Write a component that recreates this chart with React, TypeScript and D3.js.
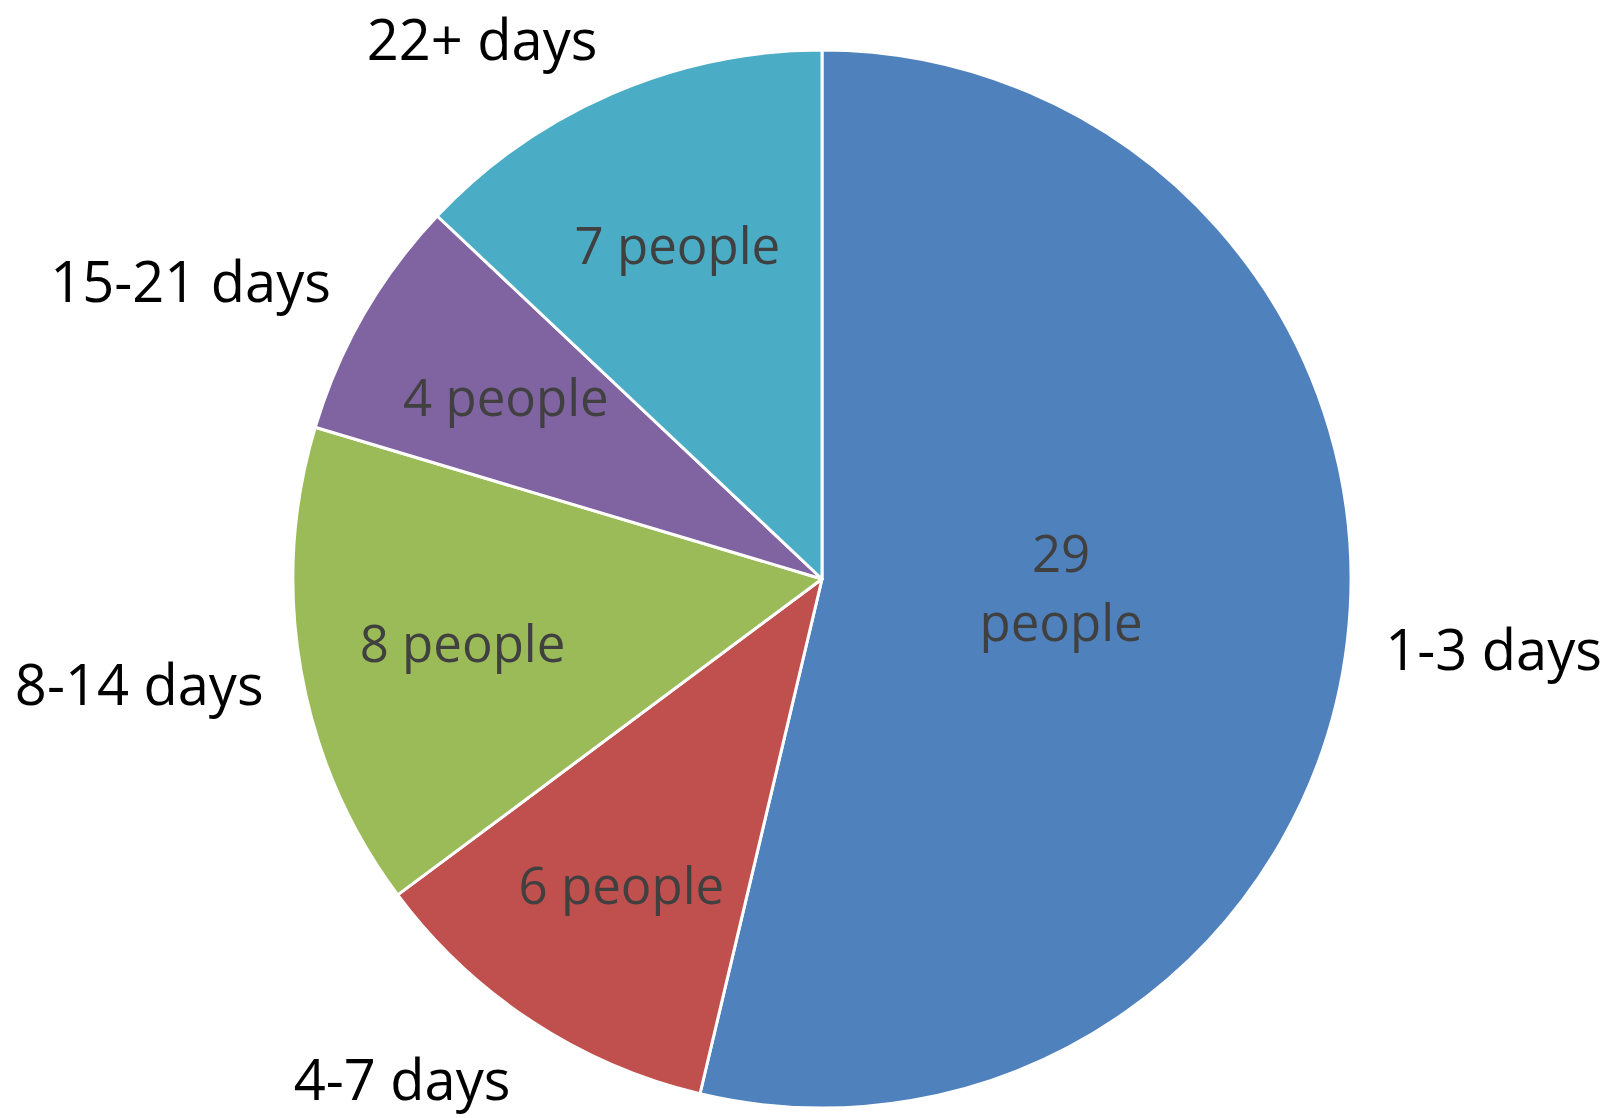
import React, { useEffect, useRef } from 'react';
import * as d3 from 'd3';

const categories = ['1-3 days', '4-7 days', '8-14 days', '15-21 days', '22+ days'];
const values = [29, 6, 8, 4, 7];
const unit = 'people';
const colors = ['#4F81BD', '#C0504D', '#9BBB59', '#8064A2', '#4BACC6'];

const W = 1614;
const H = 1118;
const CX = 822;
const CY = 579;
const R = 529;
const FONT = "'Open Sans', 'Noto Sans', sans-serif";
const FS_CAT = 56;
const FS_VAL = 51;
const GAP = 38;

export default function App() {
  const ref = useRef<SVGSVGElement | null>(null);

  useEffect(() => {
    const svg = d3.select(ref.current);
    svg.selectAll('*').remove();
    const total = d3.sum(values);
    const pie = d3.pie<number>().sort(null).value((d) => d);
    const arcs = pie(values);
    const arc = d3.arc<d3.PieArcDatum<number>>().innerRadius(0).outerRadius(R);

    const g = svg.append('g').attr('transform', `translate(${CX},${CY})`);

    g.selectAll('path.slice')
      .data(arcs)
      .join('path')
      .attr('class', 'slice')
      .attr('d', arc)
      .attr('fill', (_, i) => colors[i])
      .attr('stroke', '#ffffff')
      .attr('stroke-width', 3)
      .attr('stroke-linejoin', 'round');

    // value labels inside slices
    arcs.forEach((a, i) => {
      const mid = (a.startAngle + a.endAngle) / 2;
      const big = values[i] / total > 0.5;
      const rr = R * (big ? 0.455 : 0.69);
      const px = rr * Math.sin(mid);
      const py = -rr * Math.cos(mid) - (big ? FS_VAL * 0.4 : 0);
      const lines = big ? [String(values[i]), unit] : [`${values[i]} ${unit}`];
      const t = g
        .append('text')
        .attr('font-family', FONT)
        .attr('font-size', FS_VAL)
        .attr('fill', '#404040')
        .attr('text-anchor', 'middle');
      lines.forEach((ln, k) => {
        t.append('tspan').attr('x', 0).attr('dy', k === 0 ? 0 : FS_VAL * 1.37).text(ln);
      });
      const bb = (t.node() as SVGTextElement).getBBox();
      const dx = px - (bb.x + bb.width / 2);
      const dy = py - (bb.y + bb.height / 2);
      t.attr('transform', `translate(${dx},${dy})`);
    });

    // category labels outside
    arcs.forEach((a, i) => {
      const mid = (a.startAngle + a.endAngle) / 2;
      const s = Math.sin(mid);
      const c = Math.cos(mid);
      const P = [(R + GAP) * s, -(R + GAP) * c];
      const t = g
        .append('text')
        .attr('font-family', FONT)
        .attr('font-size', FS_CAT)
        .attr('fill', '#000000')
        .attr('text-anchor', 'middle')
        .text(categories[i]);
      const bb = (t.node() as SVGTextElement).getBBox();
      const tx = P[0] + Math.sign(s) * (bb.width / 2);
      let ty = P[1] - c * (bb.height / 2) * 0.8;
      // keep the label box inside the drawing area
      const minCy = -CY + bb.height / 2;
      const maxCy = H - CY - bb.height / 2;
      ty = Math.max(minCy, Math.min(maxCy, ty));
      const dx = tx - (bb.x + bb.width / 2);
      const dy = ty - (bb.y + bb.height / 2);
      t.attr('transform', `translate(${dx},${dy})`);
    });
  }, []);

  return (
    <svg
      ref={ref}
      width={W}
      height={H}
      style={{ position: 'absolute', left: 0, top: 0, background: '#ffffff' }}
    />
  );
}
